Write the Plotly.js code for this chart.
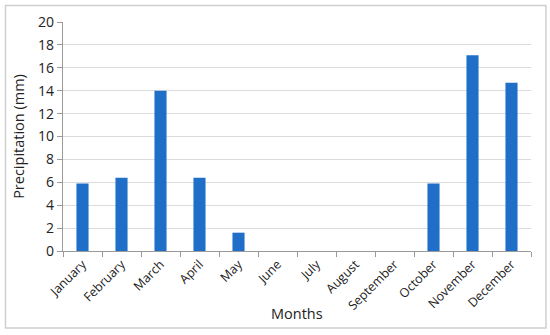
<!DOCTYPE html>
<html>
<head>
<meta charset="utf-8">
<script src="https://cdn.plot.ly/plotly-3.0.1.min.js"></script>
<style>html,body{margin:0;padding:0;background:#fff;}#chart{width:550px;height:335px;}</style>
</head>
<body>
<div id="chart"></div>
<script>
const months = ["January","February","March","April","May","June","July","August","September","October","November","December"];
const precipitation = [5.9, 6.4, 14.0, 6.4, 1.6, 0, 0, 0, 0, 5.9, 17.1, 14.7];
const yTicks = [0,2,4,6,8,10,12,14,16,18,20];

const font = "Open Sans, Noto Sans, sans-serif";
Plotly.newPlot("chart", [{
  type: "bar",
  x: months,
  y: precipitation,
  marker: {color: "#1f6fc9", line: {width: 0}},
  hoverinfo: "x+y"
}], {
  width: 550, height: 335,
  margin: {l: 63, r: 19, t: 22, b: 84},
  paper_bgcolor: "#fff", plot_bgcolor: "#fff",
  bargap: 0.69,
  showlegend: false,
  font: {family: font, size: 12, color: "#222"},
  xaxis: {
    type: "category",
    tickangle: -45,
    ticks: "outside", tickson: "boundaries", ticklen: 5, tickcolor: "#9a9a9a",
    showline: true, linecolor: "#9a9a9a", linewidth: 1.2,
    showgrid: false,
    tickfont: {family: font, size: 12.5, color: "#222"}
  },
  yaxis: {
    range: [0, 20],
    tickvals: yTicks,
    ticks: "outside", ticklen: 5, tickcolor: "#9a9a9a",
    showline: true, linecolor: "#9a9a9a", linewidth: 1.2,
    gridcolor: "#dcdcdc", gridwidth: 1,
    zeroline: false,
    tickfont: {family: font, size: 14, color: "#222"},
    title: {text: "Precipitation (mm)", font: {family: font, size: 14.5, color: "#222"}, standoff: 10}
  },
  annotations: [{
    text: "Months", xref: "paper", yref: "paper", x: 0.5, y: -0.271,
    xanchor: "center", yanchor: "middle", showarrow: false,
    font: {family: font, size: 14.5, color: "#222"}
  }],
  shapes: [{
    type: "rect", xref: "paper", yref: "paper",
    x0: -0.1229, x1: 1.032, y0: -0.336, y1: 1.072,
    line: {color: "#cfcfcf", width: 1.5}, fillcolor: "rgba(0,0,0,0)", layer: "below"
  }]
}, {displayModeBar: false, staticPlot: true});
</script>
</body>
</html>
